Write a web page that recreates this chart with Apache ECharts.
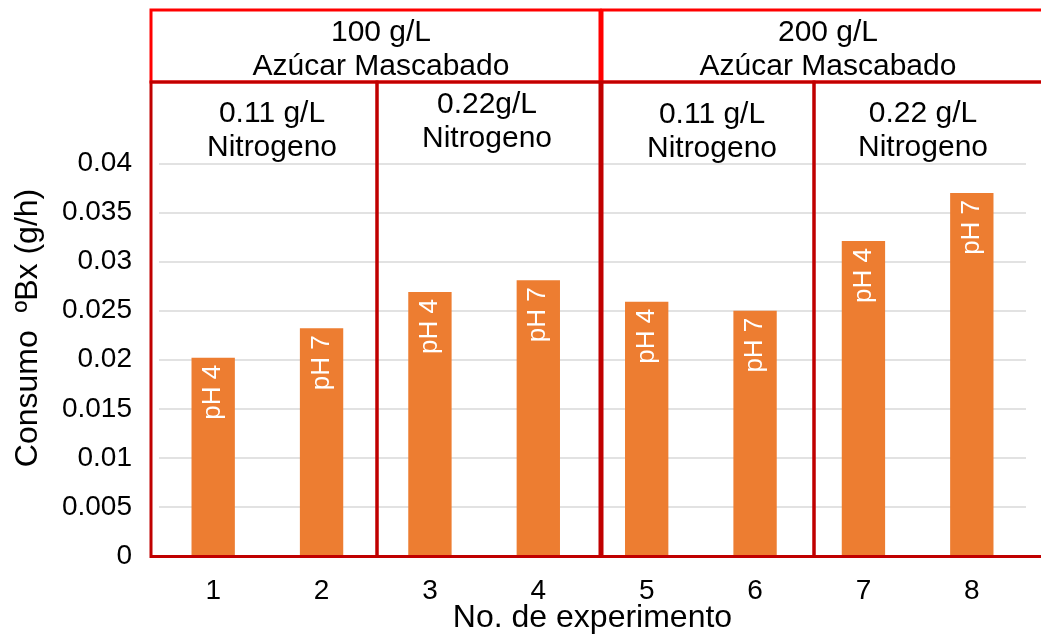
<!DOCTYPE html>
<html>
<head>
<meta charset="utf-8">
<script src="https://cdn.jsdelivr.net/npm/echarts@6/dist/echarts.min.js"></script>
<style>
  html, body { margin: 0; padding: 0; background: #fff; }
  #chart { width: 1041px; height: 636px; }
</style>
</head>
<body>
<div id="chart"></div>
<script>
// Experiment numbers and measured consumption rate of ºBx (g/h)
const experiments = ['1', '2', '3', '4', '5', '6', '7', '8'];
const consumo = [0.0202, 0.0232, 0.0269, 0.0281, 0.0259, 0.0250, 0.0321, 0.0370];
const phLabels = ['pH 4', 'pH 7', 'pH 4', 'pH 7', 'pH 4', 'pH 7', 'pH 4', 'pH 7'];

// Treatment group headings
const sugarGroups = ['100 g/L\nAzúcar Mascabado', '200 g/L\nAzúcar Mascabado'];
const nitrogenGroups = ['0.11 g/L\nNitrogeno', '0.22g/L\nNitrogeno', '0.11 g/L\nNitrogeno', '0.22 g/L\nNitrogeno'];
const yTitle = 'Consumo  ºBx (g/h)';
const xTitle = 'No. de experimento';

const FONT = '"Liberation Sans", Arial, sans-serif';
const chart = echarts.init(document.getElementById('chart'));

const headerText = (text, x, y) => ({
  type: 'text', x: x, y: y, z: 10,
  style: {
    text: text, font: '30px ' + FONT, fill: '#000',
    align: 'center', verticalAlign: 'middle', lineHeight: 34
  }
});
const box = (x, y, w, h, color) => ({
  type: 'rect', z: 9, silent: true,
  shape: { x: x, y: y, width: w, height: h },
  style: { fill: 'none', stroke: color, lineWidth: 3 }
});

chart.setOption({
  animation: false,
  backgroundColor: '#fff',
  textStyle: { fontFamily: FONT },
  grid: { left: 159, right: 15, top: 163.5, bottom: 80, outerBoundsMode: 'none' },
  xAxis: {
    type: 'category',
    data: experiments,
    name: xTitle,
    nameLocation: 'middle',
    nameGap: 46,
    nameMoveOverlap: false,
    nameTextStyle: { fontSize: 32, color: '#000', fontFamily: FONT },
    axisLine: { show: true, lineStyle: { color: '#D9D9D9' } },
    axisTick: { show: false },
    axisLabel: { fontSize: 28, color: '#000', margin: 21, fontFamily: FONT }
  },
  yAxis: {
    type: 'value',
    min: 0, max: 0.04, interval: 0.005,
    axisLine: { show: false },
    axisTick: { show: false },
    axisLabel: { fontSize: 28, color: '#000', margin: 27, fontFamily: FONT },
    splitLine: { lineStyle: { color: '#D9D9D9', width: 1.5 } }
  },
  series: [{
    type: 'bar',
    data: consumo,
    barWidth: '40%',
    itemStyle: { color: '#ED7D31' },
    label: {
      show: true,
      position: 'insideTop',
      distance: 7,
      rotate: 90,
      align: 'right',
      verticalAlign: 'middle',
      fontSize: 26,
      color: '#fff',
      fontFamily: FONT,
      formatter: p => phLabels[p.dataIndex]
    }
  }],
  graphic: [
    // sugar concentration header cells
    box(151, 10, 449, 72, '#FF0000'),
    box(602, 10, 445, 72, '#FF0000'),
    // nitrogen sub-group cells
    box(151, 82, 226, 474.5, '#C00000'),
    box(377, 82, 223, 474.5, '#C00000'),
    box(602, 82, 212, 474.5, '#C00000'),
    box(814, 82, 233, 474.5, '#C00000'),
    headerText(sugarGroups[0], 381, 50),
    headerText(sugarGroups[1], 828, 50),
    headerText(nitrogenGroups[0], 272, 131),
    headerText(nitrogenGroups[1], 487, 122),
    headerText(nitrogenGroups[2], 712, 132),
    headerText(nitrogenGroups[3], 923, 131),
    // value axis title
    {
      type: 'text', x: 28, y: 328, rotation: Math.PI / 2, z: 10,
      style: {
        text: yTitle, font: '32px ' + FONT, fill: '#000',
        align: 'center', verticalAlign: 'middle'
      }
    }
  ]
});
</script>
</body>
</html>
